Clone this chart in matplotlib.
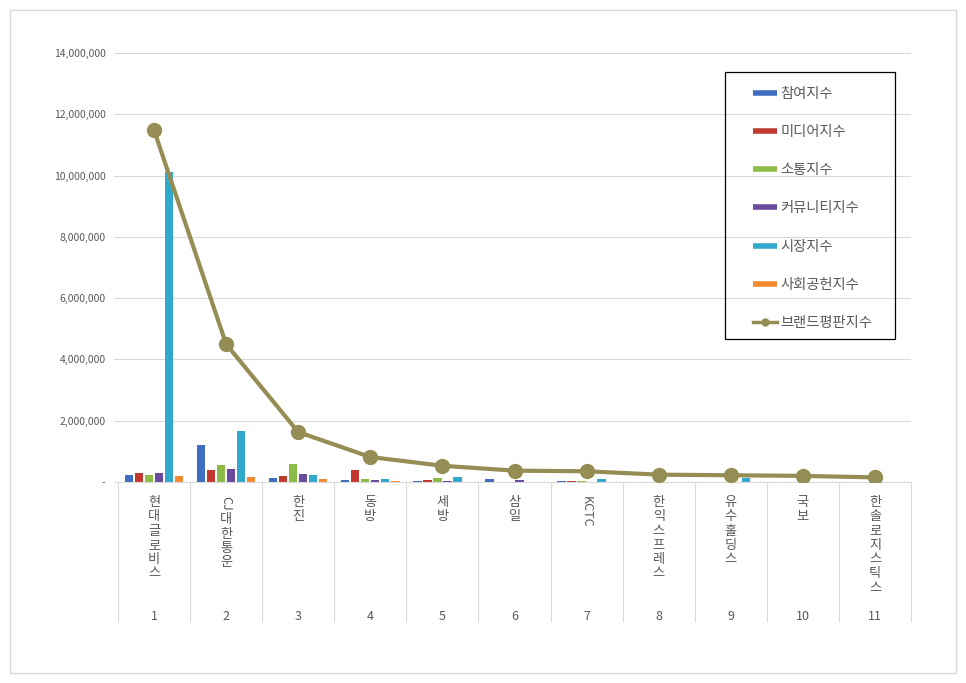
import numpy as np
import matplotlib.pyplot as plt
import matplotlib.transforms as mtransforms
from matplotlib.lines import Line2D
from matplotlib.patches import Rectangle
from matplotlib.ticker import FuncFormatter

plt.rcParams['font.family'] = ['Noto Sans CJK KR', 'DejaVu Sans']

# data
companies = ['현대글로비스', 'CJ대한통운', '한진', '동방', '세방', '삼일', 'KCTC',
             '한익스프레스', '유수홀딩스', '국보', '한솔로지스틱스']
ranks = [str(i) for i in range(1, 12)]
participation = [240000, 1200000, 120000, 55000, 20000, 90000, 20000, 5000, 5000, 15000, 5000]
media = [307000, 390000, 210000, 395000, 55000, 15000, 20000, 15000, 10000, 10000, 5000]
communication = [240000, 570000, 600000, 90000, 120000, 15000, 45000, 10000, 10000, 5000, 5000]
community = [307000, 415000, 275000, 55000, 20000, 50000, 10000, 15000, 10000, 15000, 5000]
market = [10110000, 1680000, 240000, 90000, 175000, 15000, 90000, 15000, 120000, 10000, 15000]
social = [210000, 155000, 90000, 25000, 5000, 15000, 5000, 5000, 5000, 5000, 5000]
brand = [11480000, 4500000, 1630000, 815000, 530000, 370000, 350000, 240000, 220000, 200000, 150000]

bar_series = [
    ('참여지수', participation, '#3D6EBF'),
    ('미디어지수', media, '#C0392F'),
    ('소통지수', communication, '#8CBB47'),
    ('커뮤니티지수', community, '#6A4A9C'),
    ('시장지수', market, '#31A9CC'),
    ('사회공헌지수', social, '#F48A2F'),
]
line_label = '브랜드평판지수'
line_color = '#968D55'
text_color = '#595959'
grid_color = '#D9D9D9'

W, H = 966, 683
fig = plt.figure(figsize=(W / 100, H / 100), dpi=100)
ax = fig.add_axes([118 / W, 1 - 482 / H, (911 - 118) / W, (482 - 53) / H])

x = np.arange(len(companies))
step = 0.139
width = 0.115
for k, (name, vals, col) in enumerate(bar_series):
    ax.bar(x + (k - 2.5) * step, vals, width=width, color=col, zorder=2)

ax.plot(x, brand, color=line_color, lw=3, marker='o', ms=10, zorder=3)

ax.set_xlim(-0.5, len(companies) - 0.5)
ax.set_ylim(0, 14000000)
ax.set_yticks(np.arange(0, 14000001, 2000000))
ax.yaxis.set_major_formatter(FuncFormatter(lambda v, p: '-' if v == 0 else f'{int(v):,}'))
ax.tick_params(axis='y', labelsize=7.5, colors=text_color, length=3, color=grid_color, pad=6)
ax.grid(axis='y', color=grid_color, lw=0.8, zorder=0)
for s in ['top', 'right', 'left']:
    ax.spines[s].set_visible(False)
ax.spines['bottom'].set_color(grid_color)

# rank numbers and the long category dividers
ax.set_xticks(x)
ax.set_xticklabels(ranks)
ax.tick_params(axis='x', which='major', length=0, pad=92, labelsize=9, colors=text_color)
ax.set_xticks(np.arange(-0.5, len(companies)), minor=True)
ax.tick_params(axis='x', which='minor', length=101, color=grid_color, width=0.8)

# vertical company names: hangul stacked upright, latin rotated
base = mtransforms.blended_transform_factory(ax.transData, ax.transAxes)
fs = 9.5
char_h = 10.3
for i, name in enumerate(companies):
    runs = []
    for ch in name:
        latin = ch.isascii()
        if runs and runs[-1][0] == latin:
            runs[-1][1] += ch
        else:
            runs.append([latin, ch])
    off = -10
    for latin, txt in runs:
        if latin:
            tr = mtransforms.offset_copy(base, fig=fig, x=0, y=off, units='points')
            ax.text(i, 0, txt, transform=tr, rotation=-90, ha='center', va='top',
                    fontsize=fs - 0.5, color=text_color)
            off -= len(txt) * 5.3 + 2
        else:
            for ch in txt:
                tr = mtransforms.offset_copy(base, fig=fig, x=0, y=off, units='points')
                ax.text(i, 0, ch, transform=tr, ha='center', va='top',
                        fontsize=fs, color=text_color)
                off -= char_h

# legend
handles = [Line2D([], [], color=c, lw=4, solid_capstyle='butt') for _, _, c in bar_series]
handles.append(Line2D([], [], color=line_color, lw=2.5, marker='o', ms=5))
labels = [n for n, _, _ in bar_series] + [line_label]
leg = fig.legend(handles, labels, loc='upper left', bbox_to_anchor=(740 / W, 1 - 74 / H),
                 frameon=False, fontsize=10.3, labelspacing=1.69, handlelength=1.66,
                 handletextpad=0.28, labelcolor=text_color)
fig.patches.append(Rectangle((725 / W, 1 - 339 / H), (895 - 725) / W, (339 - 72) / H,
                             transform=fig.transFigure, fill=False, ec='black', lw=0.9))

# outer chart border
fig.patches.append(Rectangle((10 / W, 10 / H), (956 - 10) / W, (673 - 10) / H,
                             transform=fig.transFigure, fill=False, ec=grid_color, lw=1))

fig.savefig('out.png', dpi=100)
